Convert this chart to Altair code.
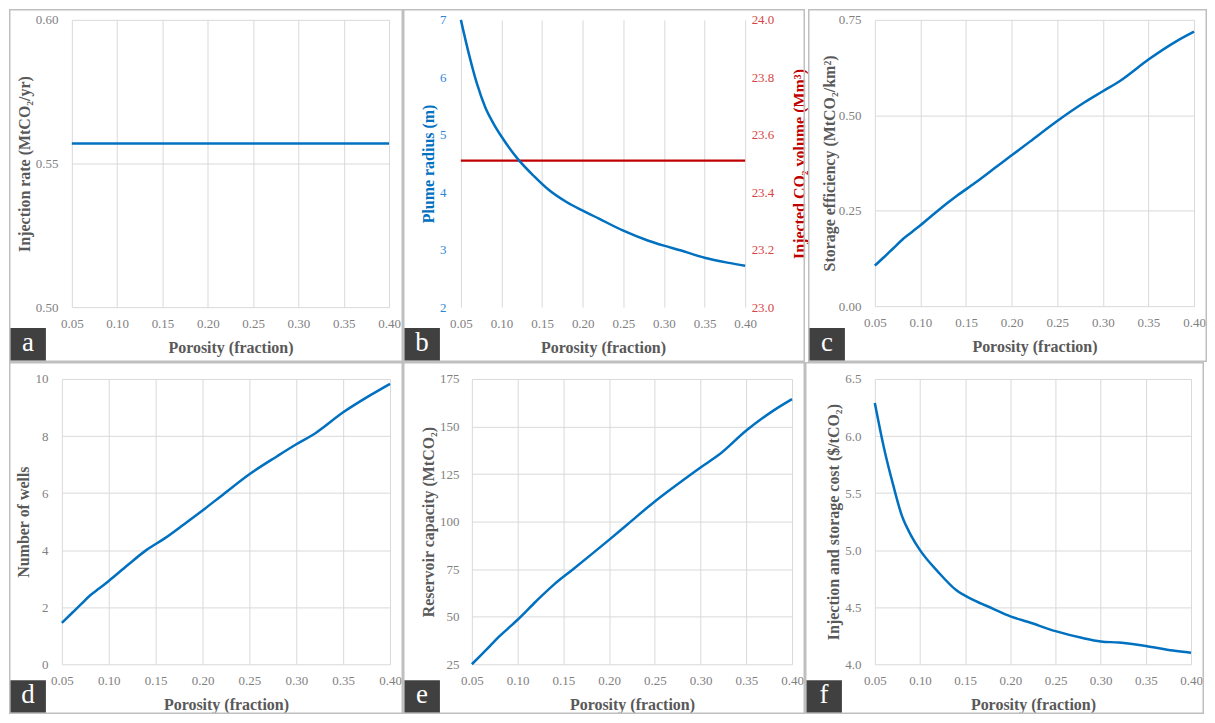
import altair as alt
import pandas as pd

# ---------------- data ----------------
porosity = [0.05, 0.06, 0.07, 0.08, 0.09, 0.10, 0.12, 0.14, 0.16, 0.18,
            0.20, 0.22, 0.25, 0.28, 0.30, 0.32, 0.35, 0.38, 0.40]
injection_rate = [0.557, 0.557, 0.557, 0.557, 0.557, 0.557, 0.557, 0.557, 0.557, 0.557,
                  0.557, 0.557, 0.557, 0.557, 0.557, 0.557, 0.557, 0.557, 0.557]
plume_radius = [7.00, 6.40, 5.88, 5.48, 5.20, 4.97, 4.58, 4.28, 4.02, 3.83,
                3.68, 3.54, 3.33, 3.16, 3.07, 2.99, 2.86, 2.77, 2.72]
injected_volume = [23.51, 23.51, 23.51, 23.51, 23.51, 23.51, 23.51, 23.51, 23.51, 23.51,
                   23.51, 23.51, 23.51, 23.51, 23.51, 23.51, 23.51, 23.51, 23.51]
storage_eff = [0.106, 0.128, 0.151, 0.174, 0.193, 0.212, 0.252, 0.289, 0.323, 0.359,
               0.395, 0.431, 0.485, 0.534, 0.563, 0.592, 0.646, 0.693, 0.719]
num_wells = [1.45, 1.77, 2.09, 2.41, 2.66, 2.92, 3.47, 4.00, 4.42, 4.90,
             5.39, 5.90, 6.66, 7.30, 7.71, 8.09, 8.83, 9.45, 9.83]
capacity = [25.0, 29.8, 34.7, 39.6, 44.0, 48.4, 58.0, 67.0, 74.7, 82.5,
            90.4, 98.5, 110.6, 121.5, 128.5, 135.1, 147.9, 158.5, 164.4]
cost = [6.29, 5.90, 5.58, 5.30, 5.13, 5.00, 4.81, 4.65, 4.56, 4.49,
        4.42, 4.37, 4.29, 4.23, 4.20, 4.19, 4.16, 4.12, 4.10]

x_ticks = [0.05, 0.10, 0.15, 0.20, 0.25, 0.30, 0.35, 0.40]

df = pd.DataFrame({
    "porosity": porosity,
    "rate": injection_rate,
    "radius": plume_radius,
    "volume": injected_volume,
    "eff": storage_eff,
    "wells": num_wells,
    "cap": capacity,
    "cost": cost,
})
one = pd.DataFrame({"k": [0]})

FONT = "Liberation Serif"
BLUE = "#0070C0"
RED = "#C00000"
BORDER = "#BFBFBF"
SW = 1.5  # border strip thickness


def x_enc():
    return alt.X("porosity:Q",
                 scale=alt.Scale(domain=[0.05, 0.40], nice=False, zero=False),
                 axis=alt.Axis(values=x_ticks, format=".2f", title="Porosity (fraction)",
                               labelPadding=10, titlePadding=9, labelFlush=False))


def strip(x1, x2, y1, y2, color=BORDER):
    return alt.Chart(one).mark_rect(fill=color).encode(
        x=alt.value(x1), x2=alt.value(x2), y=alt.value(y1), y2=alt.value(y2))


def decorations(letter, L, W, R, T, H, B):
    left, right, top, bottom = -L, W + R, -T, H + B
    layers = [
        strip(left, left + SW, top, bottom),
        strip(right - SW, right, top, bottom),
        strip(left, right, top, top + SW),
        strip(left, right, bottom - SW, bottom),
        strip(left + SW, left + 37, bottom - 34, bottom - SW, "#404040"),
        alt.Chart(one).mark_text(text=letter, color="white", fontSize=27, font=FONT,
                                 align="center", baseline="middle").encode(
            x=alt.value(left + 19), y=alt.value(bottom - 19)),
    ]
    return layers


def panel(letter, col, title, domain, ticks, fmt, L, W, R, T, H, B, lpad, tpad):
    line = alt.Chart(df).mark_line(color=BLUE, strokeWidth=2.5, interpolate="monotone").encode(
        x=x_enc(),
        y=alt.Y(f"{col}:Q", scale=alt.Scale(domain=domain, nice=False, zero=False),
                axis=alt.Axis(values=ticks, format=fmt, title=title,
                              labelPadding=lpad, titlePadding=tpad)))
    return alt.layer(*decorations(letter, L, W, R, T, H, B), line).properties(width=W, height=H)


# panel b (dual axis)
bL, bW, bR, bT, bH, bB = 58, 285, 60, 11, 288, 55
b_red = alt.Chart(df).mark_line(color=RED, strokeWidth=2.5).encode(
    x=x_enc(),
    y=alt.Y("volume:Q", scale=alt.Scale(domain=[23.0, 24.0], nice=False, zero=False),
            axis=alt.Axis(orient="right", values=[23.0, 23.2, 23.4, 23.6, 23.8, 24.0], format=".1f",
                          title="Injected CO₂  volume (Mm³)", labelColor="#D64545", titleColor=RED,
                          labelPadding=6, titlePadding=34, titleAngle=270, grid=False)))
b_blue = alt.Chart(df).mark_line(color=BLUE, strokeWidth=2.5, interpolate="monotone").encode(
    x=x_enc(),
    y=alt.Y("radius:Q", scale=alt.Scale(domain=[2, 7], nice=False, zero=False),
            axis=alt.Axis(orient="left", values=[2, 3, 4, 5, 6, 7], format="d",
                          title="Plume radius (m)", labelColor="#2E86D6", titleColor=BLUE,
                          labelPadding=15, titlePadding=2.5)))
panel_b = alt.layer(*decorations("b", bL, bW, bR, bT, bH, bB), b_red, b_blue).resolve_scale(
    y="independent").properties(width=bW, height=bH)

# row 1: T=11, H+B=343 ; row 2: T=17, H+B=336
panel_a = panel("a", "rate", "Injection rate (MtCO₂/yr)", [0.50, 0.60], [0.50, 0.55, 0.60], ".2f",
                63, 318, 14, 11, 288, 55, 14, 3)
panel_c = panel("c", "eff", "Storage efficiency (MtCO₂/km²)", [0.0, 0.75], [0.0, 0.25, 0.5, 0.75], ".2f",
                67, 320, 13, 11, 287, 56, 14, 1)
panel_d = panel("d", "wells", "Number of wells", [0, 10], [0, 2, 4, 6, 8, 10], "d",
                53, 329, 13, 17, 286, 50, 14, 3)
panel_e = panel("e", "cap", "Reservoir capacity (MtCO₂)", [25, 175], [25, 50, 75, 100, 125, 150, 175], "d",
                69, 321, 13, 17, 286, 50, 13, 2.5)
panel_f = panel("f", "cost", "Injection and storage cost ($/tCO₂)", [4.0, 6.5], [4.0, 4.5, 5.0, 5.5, 6.0, 6.5], ".1f",
                70, 317, 13, 17, 286, 50, 14, 2.75)


def spacer():
    return alt.Chart(one).mark_rect(opacity=0).encode(
        x=alt.value(0), x2=alt.value(1), y=alt.value(0), y2=alt.value(1)).properties(width=1, height=1)


row1 = alt.hconcat(spacer(), panel_a, panel_b, panel_c, spacing=0)
row2 = alt.hconcat(spacer(), panel_d, panel_e, panel_f, spacing=0)

chart = alt.vconcat(row1, row2, spacing=0).properties(
    padding=0, background="white"
).configure_view(strokeWidth=0).configure_axis(
    grid=True, gridColor="#D9D9D9", gridWidth=1, domain=False, ticks=False,
    labelFont=FONT, labelFontSize=13, labelColor="#7F7F7F",
    titleFont=FONT, titleFontSize=16, titleFontWeight="bold", titleColor="#595959",
).configure_text(font=FONT)

chart.save("out.html", embed_options={"renderer": "svg", "actions": False})
